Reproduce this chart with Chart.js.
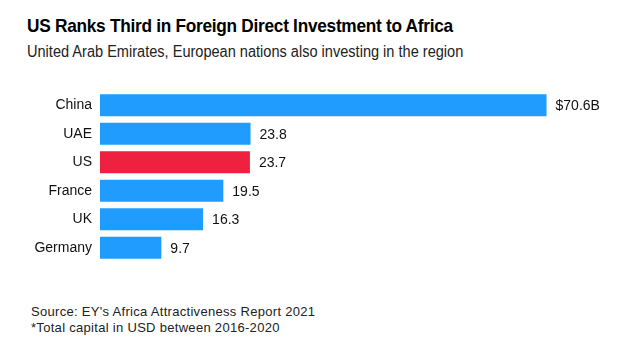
<!DOCTYPE html>
<html>
<head>
<meta charset="utf-8">
<script src="https://cdn.jsdelivr.net/npm/chart.js@4"></script>
<style>
  body { margin: 0; width: 629px; height: 350px; background: #fff; font-family: "Liberation Sans", Arial, sans-serif; position: relative; overflow: hidden; }
  .txt { position: absolute; white-space: nowrap; color: #000; transform-origin: left top; }
  #title { left: 27px; top: 15px; font-size: 19px; font-weight: bold; letter-spacing: -0.3px; transform: scaleX(0.908); }
  #subtitle { left: 27px; top: 43px; font-size: 16px; color: #222; transform: scaleX(0.91); }
  #source { left: 31px; top: 304px; font-size: 13px; line-height: 15.5px; letter-spacing: 0.3px; color: #222; }
  #wrap { position: absolute; left: 0; top: 0; width: 629px; height: 350px; }
</style>
</head>
<body>
<div class="txt" id="title">US Ranks Third in Foreign Direct Investment to Africa</div>
<div class="txt" id="subtitle">United Arab Emirates, European nations also investing in the region</div>
<div class="txt" id="source">Source: EY's Africa Attractiveness Report 2021<br>*Total capital in USD between 2016-2020</div>
<div id="wrap"><canvas id="chart"></canvas></div>
<script>
const countries = ['China', 'UAE', 'US', 'France', 'UK', 'Germany'];
const fdi = [70.6, 23.8, 23.7, 19.5, 16.3, 9.7];
const valueLabels = ['$70.6B', '23.8', '23.7', '19.5', '16.3', '9.7'];
const barColors = ['#1f9cfd', '#1f9cfd', '#ee2240', '#1f9cfd', '#1f9cfd', '#1f9cfd'];

// etiquetas de valor al final de cada barra
const valueLabelPlugin = {
    id: 'valueLabels',
    afterDatasetsDraw(chart) {
        const { ctx } = chart;
        const meta = chart.getDatasetMeta(0);
        ctx.save();
        ctx.font = '14px "Liberation Sans", Arial, sans-serif';
        ctx.fillStyle = '#111';
        ctx.textBaseline = 'middle';
        meta.data.forEach((bar, i) => {
            ctx.fillText(valueLabels[i], bar.x + 9, bar.y + 1);
        });
        ctx.restore();
    }
};

const ctx = document.getElementById('chart').getContext('2d');
new Chart(ctx, {
    type: 'bar',
    data: {
        labels: countries,
        datasets: [{
            data: fdi,
            backgroundColor: barColors,
            barPercentage: 0.77,
            categoryPercentage: 1
        }]
    },
    options: {
        indexAxis: 'y',
        responsive: true,
        maintainAspectRatio: false,
        animation: false,
        layout: { padding: { top: 91, bottom: 88, left: 0, right: 23 } },
        plugins: { legend: { display: false }, tooltip: { enabled: false } },
        scales: {
            x: { display: false, min: 0, max: 80 },
            y: {
                afterFit(scale) { scale.width = 100; },
                grid: { display: false, drawTicks: false },
                border: { display: false },
                ticks: {
                    padding: 8,
                    color: '#111',
                    font: { family: '"Liberation Sans", Arial, sans-serif', size: 14 }
                }
            }
        }
    },
    plugins: [valueLabelPlugin]
});
</script>
</body>
</html>
